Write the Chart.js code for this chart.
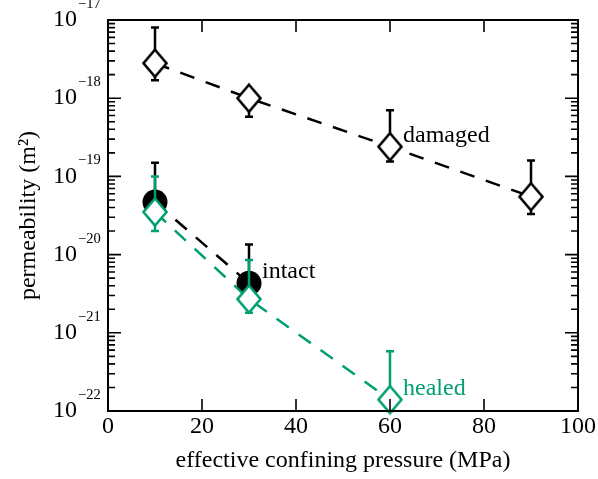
<!DOCTYPE html>
<html>
<head>
<meta charset="utf-8">
<title>permeability vs confining pressure</title>
<script src="https://cdn.jsdelivr.net/npm/chart.js@4.4.1/dist/chart.umd.min.js"></script>
<style>
    body { margin: 0; background: #fff; }
    #wrap { width: 598px; height: 479px; }
</style>
</head>
<body>
<div id="wrap"><canvas id="permChart" width="598" height="479"></canvas></div>
<script>
// measured permeability (m^2) with upper / lower bounds
var damagedP = [10, 30, 60, 90];
var damagedK = [2.8e-18, 1.0e-18, 2.4e-19, 5.5e-20];
var damagedHi = [8.0e-18, 1.25e-18, 7.0e-19, 1.6e-19];
var damagedLo = [1.7e-18, 5.8e-19, 1.55e-19, 3.3e-20];

var intactP = [10, 30];
var intactK = [4.7e-20, 4.3e-21];
var intactHi = [1.5e-19, 1.35e-20];
var intactLo = [3.6e-20, 3.3e-21];

var healedP = [10, 30, 60];
var healedK = [3.5e-20, 2.7e-21, 1.4e-22];
var healedHi = [1.0e-19, 8.5e-21, 5.8e-22];
var healedLo = [2.0e-20, 1.8e-21, 1.0e-22];

var xTicks = [0, 20, 40, 60, 80, 100];
var yDecades = [-22, -21, -20, -19, -18, -17];

// text placed next to a data point
var seriesLabels = [
    { text: 'damaged', x: 60, y: 2.4e-19, color: '#000' },
    { text: 'intact', x: 30, y: 4.3e-21, color: '#000' },
    { text: 'healed', x: 60, y: 1.4e-22, color: '#009e73' }
];

var GREEN = '#009e73';
var FONT = '"Liberation Serif", "Times New Roman", serif';

Chart.defaults.font.family = FONT;
Chart.defaults.color = '#000';

function toPoints(xs, ys) {
    return xs.map(function(x, i) { return { x: x, y: ys[i] }; });
}

// open diamond marker with white fill
function makeDiamond(color) {
    var c = document.createElement('canvas');
    c.width = 28;
    c.height = 32;
    var g = c.getContext('2d');
    g.beginPath();
    g.moveTo(14, 2.5);
    g.lineTo(25.5, 16);
    g.lineTo(14, 29.5);
    g.lineTo(2.5, 16);
    g.closePath();
    g.fillStyle = '#fff';
    g.fill();
    g.lineWidth = 2.6;
    g.strokeStyle = color;
    g.stroke();
    return c;
}

var errorBars = {
    id: 'errorBars',
    beforeDatasetDraw: function(chart, args) {
        var ds = chart.data.datasets[args.index];
        if (!ds.errHi) return;
        var xs = chart.scales.x, ys = chart.scales.y, ctx = chart.ctx;
        ctx.save();
        ctx.setLineDash([]);
        ctx.strokeStyle = ds.borderColor;
        ctx.lineWidth = 2.5;
        ds.data.forEach(function(p, i) {
            var px = xs.getPixelForValue(p.x);
            var top = ys.getPixelForValue(ds.errHi[i]);
            var bot = ys.getPixelForValue(ds.errLo[i]);
            ctx.beginPath();
            ctx.moveTo(px, top);
            ctx.lineTo(px, bot);
            ctx.moveTo(px - 4, top);
            ctx.lineTo(px + 4, top);
            ctx.moveTo(px - 4, bot);
            ctx.lineTo(px + 4, bot);
            ctx.stroke();
        });
        ctx.restore();
    }
};

var seriesText = {
    id: 'seriesText',
    afterDatasetsDraw: function(chart) {
        var xs = chart.scales.x, ys = chart.scales.y, ctx = chart.ctx;
        ctx.save();
        ctx.font = '24px ' + FONT;
        ctx.textAlign = 'left';
        ctx.textBaseline = 'alphabetic';
        seriesLabels.forEach(function(l) {
            ctx.fillStyle = l.color;
            ctx.fillText(l.text, xs.getPixelForValue(l.x) + 13, ys.getPixelForValue(l.y) - 5);
        });
        ctx.restore();
    }
};

// box, mirrored ticks and the 10^n labels
var frame = {
    id: 'frame',
    afterDraw: function(chart) {
        var a = chart.chartArea, ctx = chart.ctx;
        var xs = chart.scales.x, ys = chart.scales.y;
        ctx.save();
        ctx.strokeStyle = '#000';
        ctx.lineWidth = 1.6;
        ctx.beginPath();
        xTicks.forEach(function(v) {
            if (v <= xs.min || v >= xs.max) return;
            var px = xs.getPixelForValue(v);
            ctx.moveTo(px, a.bottom);
            ctx.lineTo(px, a.bottom - 12);
            ctx.moveTo(px, a.top);
            ctx.lineTo(px, a.top + 12);
        });
        yDecades.forEach(function(d, i) {
            var py = ys.getPixelForValue(Math.pow(10, d));
            if (i > 0 && i < yDecades.length - 1) {
                ctx.moveTo(a.left, py);
                ctx.lineTo(a.left + 13, py);
                ctx.moveTo(a.right, py);
                ctx.lineTo(a.right - 13, py);
            }
            if (i === yDecades.length - 1) return;
            for (var k = 2; k <= 9; k++) {
                var pm = ys.getPixelForValue(k * Math.pow(10, d));
                ctx.moveTo(a.left, pm);
                ctx.lineTo(a.left + 7, pm);
                ctx.moveTo(a.right, pm);
                ctx.lineTo(a.right - 7, pm);
            }
        });
        ctx.stroke();

        ctx.lineWidth = 2;
        ctx.strokeRect(a.left, a.top, a.right - a.left, a.bottom - a.top);

        ctx.fillStyle = '#000';
        yDecades.forEach(function(d) {
            var py = ys.getPixelForValue(Math.pow(10, d));
            ctx.font = '24px ' + FONT;
            ctx.textAlign = 'right';
            ctx.textBaseline = 'middle';
            ctx.fillText('10', 77, py);
            ctx.font = '14.5px ' + FONT;
            ctx.textAlign = 'left';
            ctx.textBaseline = 'alphabetic';
            ctx.fillText('\u2212' + (-d), 78, py - 12);
        });
        ctx.restore();
    }
};

var ctx = document.getElementById('permChart').getContext('2d');
var permChart = new Chart(ctx, {
    type: 'scatter',
    data: {
        datasets: [{
            label: 'healed',
            data: toPoints(healedP, healedK),
            errHi: healedHi,
            errLo: healedLo,
            order: 1,
            showLine: true,
            borderColor: GREEN,
            borderWidth: 2.5,
            borderDash: [15, 12],
            pointStyle: makeDiamond(GREEN),
            pointRadius: 14,
            clip: false
        }, {
            label: 'intact',
            data: toPoints(intactP, intactK),
            errHi: intactHi,
            errLo: intactLo,
            order: 2,
            showLine: true,
            borderColor: '#000',
            borderWidth: 2.5,
            borderDash: [15, 12],
            pointStyle: 'circle',
            pointRadius: 12.5,
            pointBorderWidth: 0,
            pointBackgroundColor: '#000',
            clip: false
        }, {
            label: 'damaged',
            data: toPoints(damagedP, damagedK),
            errHi: damagedHi,
            errLo: damagedLo,
            order: 3,
            showLine: true,
            borderColor: '#000',
            borderWidth: 2.5,
            borderDash: [15, 12],
            pointStyle: makeDiamond('#000'),
            pointRadius: 14,
            clip: false
        }]
    },
    options: {
        responsive: false,
        animation: false,
        events: [],
        layout: { padding: { top: 20, right: 20, left: 0, bottom: 0 } },
        plugins: {
            legend: { display: false },
            tooltip: { enabled: false }
        },
        scales: {
            x: {
                type: 'linear',
                min: 0,
                max: 100,
                grid: { display: false, drawTicks: false },
                border: { display: false },
                ticks: {
                    stepSize: 20,
                    padding: 1,
                    maxRotation: 0,
                    font: { size: 24 },
                    color: '#000'
                },
                title: {
                    display: true,
                    text: 'effective confining pressure (MPa)',
                    font: { size: 24 },
                    color: '#000',
                    padding: { top: 0, bottom: 3.5 }
                },
                afterFit: function(scale) { scale.height = 68; }
            },
            y: {
                type: 'logarithmic',
                min: 1e-22,
                max: 1e-17,
                grid: { display: false, drawTicks: false },
                border: { display: false },
                ticks: { display: false },
                title: {
                    display: true,
                    text: 'permeability (m\u00b2)',
                    font: { size: 24 },
                    color: '#000',
                    padding: { top: 14.5, bottom: 0 }
                },
                afterFit: function(scale) { scale.width = 108; }
            }
        }
    },
    plugins: [errorBars, seriesText, frame]
});
</script>
</body>
</html>
